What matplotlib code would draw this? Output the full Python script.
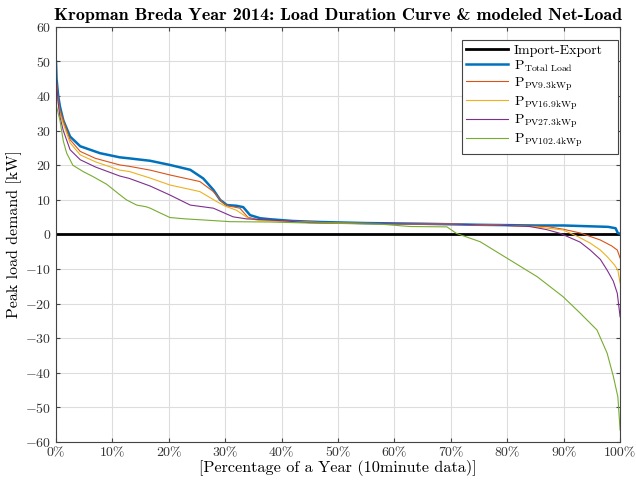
import matplotlib
matplotlib.use("Agg")
import matplotlib.pyplot as plt
from matplotlib.ticker import MultipleLocator

plt.rcParams["font.family"] = "serif"
plt.rcParams["font.serif"] = ["cmr10"]
plt.rcParams["mathtext.fontset"] = "cm"
plt.rcParams["axes.unicode_minus"] = False
plt.rcParams["axes.formatter.use_mathtext"] = True

# --- Daten ---
x_total = [0, 0.1, 0.4, 0.7, 1.3, 2.5, 4.3, 7.8, 11.3, 13, 16.7, 20.2, 23.8, 26.1, 27.9, 29.1, 30.3, 32, 33.2, 34.4, 36.2, 38, 42, 47, 55, 65, 75, 85, 90, 97.9, 99.2, 99.6, 100]
y_total = [50, 45, 40, 37, 33, 28.3, 25.5, 23.5, 22.3, 22, 21.3, 20.1, 18.7, 16.2, 12.9, 10, 8.5, 8.3, 7.9, 5.6, 4.7, 4.4, 3.9, 3.6, 3.3, 3.1, 2.8, 2.6, 2.6, 2.2, 1.8, 0.4, 0.2]

x_pv9 = [0, 0.1, 0.4, 0.7, 1.3, 2.5, 4.3, 7, 11.3, 13, 16.7, 20.2, 25.5, 27.9, 29.7, 30.4, 32.6, 34, 36, 42, 50, 60, 70, 80, 87, 90, 93, 96.5, 98.5, 99.5, 100]
y_pv9 = [48, 44, 39, 36, 33, 27.4, 24, 22, 20.1, 19.7, 18.6, 17.2, 15.3, 12.4, 9, 8.3, 7.6, 5, 4.2, 3.8, 3.3, 3.1, 3.0, 2.6, 2.3, 1.5, 0.4, -1.6, -3.3, -4.5, -6.8]

x_pv16 = [0, 0.1, 0.4, 0.7, 1.3, 2.5, 4.3, 7, 11.3, 13, 16.7, 20.2, 25.5, 28.5, 30, 32, 34, 36, 42, 50, 60, 70, 80, 85, 89.9, 92.5, 94.7, 96.5, 97.7, 99, 99.6, 100]
y_pv16 = [47, 43, 38, 35, 32, 26.5, 23, 21, 18.6, 18.2, 16.3, 14.3, 12.4, 9.5, 8.2, 7.0, 4.8, 4.0, 3.7, 3.3, 3.1, 3.0, 2.6, 2.2, 1.3, -0.6, -2.5, -4.5, -6.4, -8.8, -10.3, -14]

x_pv27 = [0, 0.1, 0.4, 0.7, 1.3, 2.5, 4.3, 7, 11.3, 13, 16.7, 20.2, 23.8, 27.9, 31.4, 33.8, 38, 45, 50, 60, 70, 80, 84, 87, 89.4, 92.9, 94.7, 96.5, 97.7, 98.8, 99.5, 100]
y_pv27 = [50, 44, 38, 34, 30, 24.5, 21.6, 19.5, 16.9, 16.2, 14.0, 11.4, 8.5, 7.6, 5.1, 4.5, 4.2, 3.4, 3.2, 3.1, 3.0, 2.6, 2.3, 1.4, 0.3, -2.2, -4.5, -7.2, -10.3, -13.5, -17, -23.8]

x_pv102 = [0, 0.1, 0.4, 0.7, 1.3, 1.9, 3, 4.8, 6.6, 9, 11.3, 12.5, 14.3, 16, 16.7, 18.5, 20.2, 23, 26.1, 30.9, 38, 45, 50, 57.4, 62.8, 69.3, 71, 75.2, 80.5, 85.3, 89.9, 92.9, 95.9, 97.7, 98.8, 99.6, 100]
y_pv102 = [45, 37, 35, 33, 27, 23.5, 20, 18.2, 16.7, 14.5, 11.5, 10, 8.5, 8.0, 7.6, 6.2, 4.9, 4.5, 4.2, 3.7, 3.6, 3.3, 3.2, 3.0, 2.3, 2.2, 0.3, -2.1, -7.4, -12.2, -18, -22.7, -27.6, -34.3, -41, -46.9, -56.5]

labels = ["Import-Export",
          r"$\mathrm{P}_{\mathrm{Total\ Load}}$",
          r"$\mathrm{P}_{\mathrm{PV9.3kWp}}$",
          r"$\mathrm{P}_{\mathrm{PV16.9kWp}}$",
          r"$\mathrm{P}_{\mathrm{PV27.3kWp}}$",
          r"$\mathrm{P}_{\mathrm{PV102.4kWp}}$"]

fig = plt.figure(figsize=(6.36, 4.8), dpi=100)
ax = fig.add_axes([0.088, 0.079, 0.887, 0.865])

ax.plot([0, 100], [0, 0], color="black", lw=2, label=labels[0])
ax.plot(x_total, y_total, color="#0072BD", lw=1.8, label=labels[1])
ax.plot(x_pv9, y_pv9, color="#D95319", lw=0.8, label=labels[2])
ax.plot(x_pv16, y_pv16, color="#EDB120", lw=0.8, label=labels[3])
ax.plot(x_pv27, y_pv27, color="#7E2F8E", lw=0.8, label=labels[4])
ax.plot(x_pv102, y_pv102, color="#77AC30", lw=0.8, label=labels[5])

ax.set_xlim(0, 100)
ax.set_ylim(-60, 60)
ax.xaxis.set_major_locator(MultipleLocator(10))
ax.yaxis.set_major_locator(MultipleLocator(10))
ax.set_xticklabels([f"{int(v)}%" for v in ax.get_xticks()])
ax.tick_params(direction="in", length=3, labelsize=10, top=True, right=True,
               colors="#444444", labelcolor="#333333")
ax.grid(True, color="#dddddd", lw=0.8)
ax.set_axisbelow(True)
for s in ax.spines.values():
    s.set_color("#444444")

ax.set_title("Kropman Breda Year 2014: Load Duration Curve & modeled Net-Load",
             fontsize=13, fontfamily="cmb10", pad=5)
ax.set_xlabel("[Percentage of a Year (10minute data)]", fontsize=11.7, labelpad=1)
ax.set_ylabel("Peak load demand [kW]", fontsize=11.5, labelpad=2)

leg = ax.legend(loc="upper left", bbox_to_anchor=(0.72, 0.969, 0.277, 0.0),
                mode="expand", borderaxespad=0, fontsize=10, fancybox=False,
                framealpha=1, edgecolor="#444444", handlelength=3.0,
                borderpad=0.3, labelspacing=0.12, handletextpad=0.4)
leg.get_frame().set_linewidth(0.8)

fig.savefig("out.png", dpi=100)
